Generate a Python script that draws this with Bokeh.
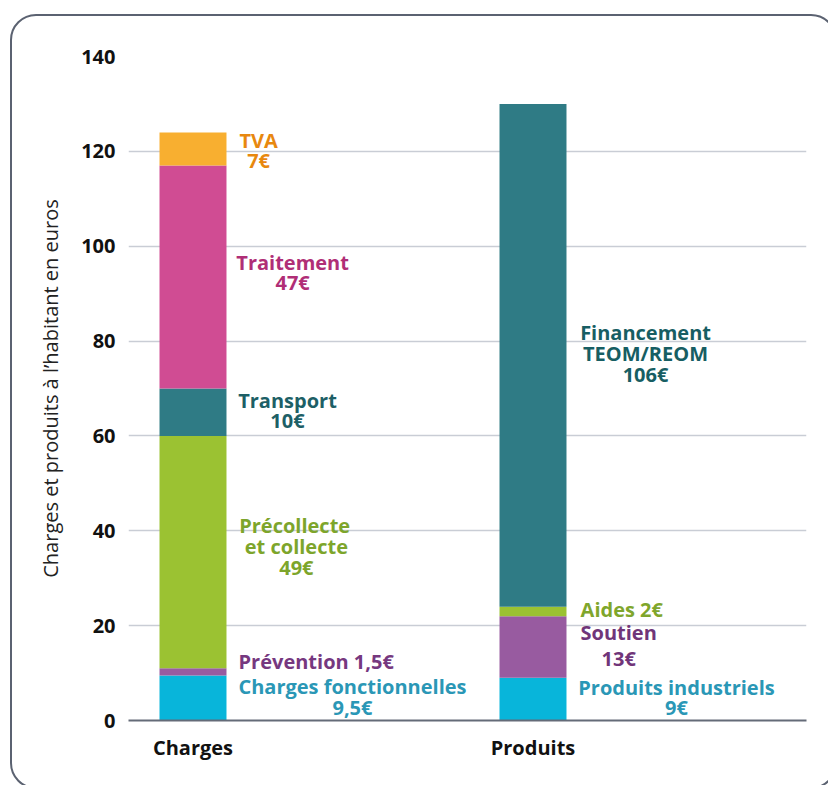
import numpy as np
from bokeh.plotting import figure
from bokeh.models import ColumnDataSource, FixedTicker, Range1d, InlineStyleSheet
from bokeh.core.properties import value
from bokeh.embed import file_html
from bokeh.resources import INLINE

# ---------------- data ----------------
categories = ["Charges", "Produits"]

charges_names = ["Charges fonctionnelles", "Prévention", "Précollecte et collecte",
                 "Transport", "Traitement", "TVA"]
charges_values = [9.5, 1.5, 49, 10, 47, 7]

produits_names = ["Produits industriels", "Soutien", "Aides", "Financement TEOM/REOM"]
produits_values = [9, 13, 2, 106]

y_ticks = [0, 20, 40, 60, 80, 100, 120, 140]
y_title = "Charges et produits à l’habitant en euros"

# ---------------- styles ----------------
charges_colors = ["#08B5DA", "#985BA0", "#9BC232", "#2F7B85", "#D04C93", "#F8AF30"]
produits_colors = ["#08B5DA", "#985BA0", "#9BC232", "#2F7B85"]

FONT = "Open Sans"
BAR_W = 0.197

# label lines: (text, x in data units, y in data units, align, color)
label_lines = [
    ("TVA", 1.193, 122.3, "center", "#E8880F"),
    ("7€", 1.193, 118.1, "center", "#E8880F"),
    ("Traitement", 1.293, 96.6, "center", "#B02E76"),
    ("47€", 1.293, 92.3, "center", "#B02E76"),
    ("Transport", 1.278, 67.5, "center", "#1D5F66"),
    ("10€", 1.278, 63.2, "center", "#1D5F66"),
    ("Précollecte", 1.299, 41.1, "center", "#7DA52B"),
    ("et collecte", 1.304, 36.7, "center", "#7DA52B"),
    ("49€", 1.304, 32.3, "center", "#7DA52B"),
    ("Prévention 1,5€", 1.134, 12.4, "left", "#76387F"),
    ("Charges fonctionnelles", 1.469, 7.2, "center", "#2A97B6"),
    ("9,5€", 1.469, 2.7, "center", "#2A97B6"),
    ("Financement", 2.331, 81.8, "center", "#175E63"),
    ("TEOM/REOM", 2.331, 77.4, "center", "#175E63"),
    ("106€", 2.331, 73.0, "center", "#175E63"),
    ("Aides 2€", 2.140, 23.4, "left", "#7FA62C"),
    ("Soutien", 2.252, 18.6, "center", "#703579"),
    ("13€", 2.252, 13.1, "center", "#703579"),
    ("Produits industriels", 2.422, 7.0, "center", "#2A97B6"),
    ("9€", 2.422, 2.7, "center", "#2A97B6"),
]

# ---------------- figure ----------------
p = figure(width=828, height=785, output_backend="svg", toolbar_location=None,
           x_range=Range1d(0.8103, 2.8044), y_range=Range1d(0, 140),
           min_border_left=128, min_border_right=22, min_border_top=56,
           min_border_bottom=65)
p.outline_line_color = None
p.background_fill_color = "white"
p.border_fill_color = "white"

def stack(values, names, colors, xpos):
    v = np.array(values, dtype=float)
    tops = np.cumsum(v)
    bottoms = tops - v
    src = ColumnDataSource(dict(x=[xpos] * len(v), bottom=bottoms, top=tops,
                                color=colors, name=names))
    p.vbar(x="x", bottom="bottom", top="top", width=BAR_W, color="color",
           line_color=None, source=src)

stack(charges_values, charges_names, charges_colors, 1)
stack(produits_values, produits_names, produits_colors, 2)

lbl = ColumnDataSource(dict(
    text=[l[0] for l in label_lines],
    x=[l[1] for l in label_lines],
    y=[l[2] for l in label_lines],
    align=[l[3] for l in label_lines],
    color=[l[4] for l in label_lines],
))
p.text(x="x", y="y", text="text", text_align="align", text_baseline="middle",
       text_color="color", text_font=value(FONT), text_font_style="bold",
       text_font_size="20px", source=lbl)

# axes
p.xaxis.ticker = FixedTicker(ticks=[1, 2])
p.xaxis.major_label_overrides = {1: categories[0], 2: categories[1]}
p.xaxis.major_tick_line_color = None
p.xaxis.major_tick_out = 0
p.xaxis.minor_tick_line_color = None
p.xaxis.axis_line_color = "#646B78"
p.xaxis.axis_line_width = 2
p.xaxis.major_label_text_font = FONT
p.xaxis.major_label_text_font_style = "bold"
p.xaxis.major_label_text_font_size = "20px"
p.xaxis.major_label_text_color = "#111111"
p.xaxis.major_label_standoff = 13

p.yaxis.ticker = FixedTicker(ticks=y_ticks)
p.yaxis.axis_line_color = None
p.yaxis.major_tick_line_color = None
p.yaxis.major_tick_out = 0
p.yaxis.minor_tick_line_color = None
p.yaxis.major_label_text_font = FONT
p.yaxis.major_label_text_font_style = "bold"
p.yaxis.major_label_text_font_size = "20px"
p.yaxis.major_label_text_color = "#111111"
p.yaxis.major_label_standoff = 13
p.yaxis.axis_label = y_title
p.yaxis.axis_label_text_font = FONT
p.yaxis.axis_label_text_font_style = "normal"
p.yaxis.axis_label_text_font_size = "20px"
p.yaxis.axis_label_text_color = "#222222"
p.yaxis.axis_label_standoff = 14

p.xgrid.grid_line_color = None
p.ygrid.grid_line_color = "#C9CDD5"
p.ygrid.grid_line_width = 1.5

# rounded border frame (extends past the right and bottom edges, as in the reference)
p.stylesheets = [InlineStyleSheet(css="""
:host { overflow: hidden; }
:host::after {
  content: "";
  position: absolute;
  left: 10px; top: 14px;
  width: 827px; height: 775px;
  box-sizing: border-box;
  border: 2.5px solid #5B6271;
  border-radius: 26px;
  pointer-events: none;
}
""")]

open("out.html", "w").write(file_html(p, INLINE))
